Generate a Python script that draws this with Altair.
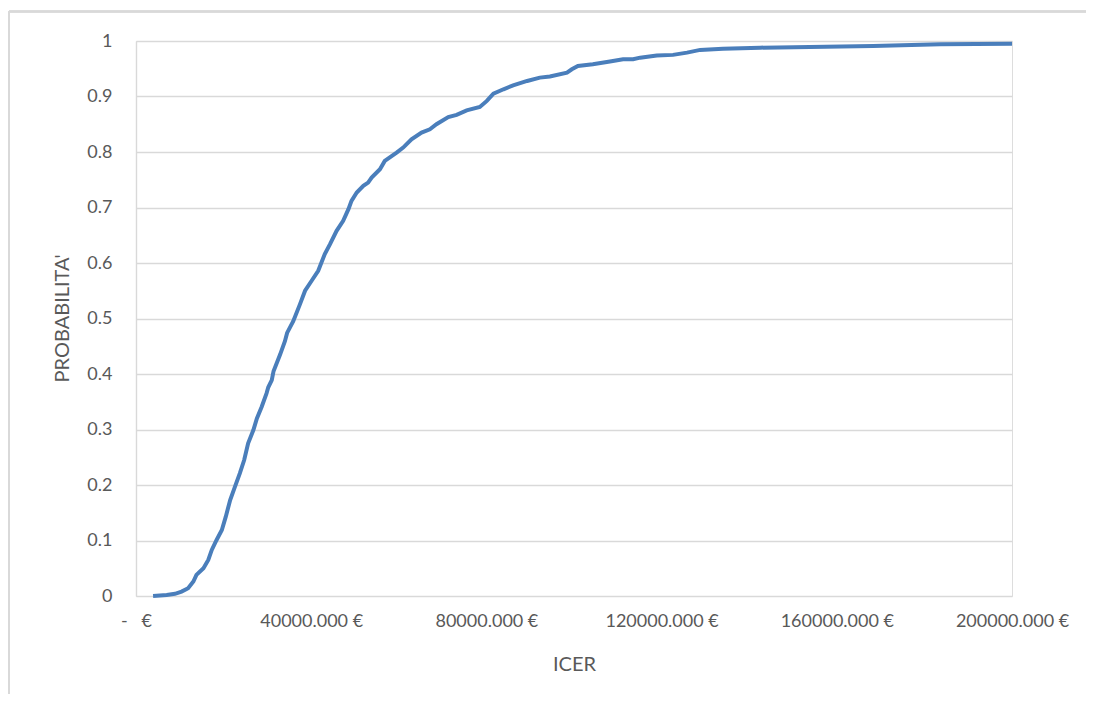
import altair as alt
import pandas as pd

# ICER values (EUR) and cumulative probability
icer = [3900, 7000, 8900, 10400, 11900, 13100, 13800, 15400, 16500, 17300,
        18400, 19600, 20500, 21500, 22600, 23700, 24700, 25600, 26800, 27600,
        28700, 29800, 30200, 31000, 31400, 32900, 34000, 34500, 35900, 37400,
        38600, 40100, 41600, 43100, 44300, 45800, 47300, 48500, 49200, 50400,
        51900, 53000, 53800, 55700, 56800, 59500, 61000, 62900, 65200, 67100,
        68600, 71300, 73200, 75500, 78500, 80100, 81600, 83900, 86100, 89300,
        92200, 94500, 98400, 99500, 100900, 104300, 108200, 111200, 113500,
        115100, 118900, 122600, 125800, 128800, 134000, 142500, 168300,
        183600, 200000]
prob = [0.000, 0.002, 0.004, 0.008, 0.014, 0.026, 0.038, 0.050, 0.065, 0.083,
        0.101, 0.119, 0.143, 0.173, 0.197, 0.221, 0.245, 0.275, 0.299, 0.320,
        0.341, 0.365, 0.376, 0.389, 0.405, 0.435, 0.459, 0.474, 0.495, 0.525,
        0.550, 0.568, 0.586, 0.616, 0.634, 0.658, 0.676, 0.697, 0.712, 0.727,
        0.739, 0.745, 0.754, 0.769, 0.784, 0.799, 0.808, 0.823, 0.835, 0.841,
        0.850, 0.863, 0.867, 0.875, 0.881, 0.892, 0.905, 0.913, 0.920, 0.928,
        0.934, 0.936, 0.943, 0.949, 0.955, 0.958, 0.963, 0.967, 0.967,
        0.970, 0.974, 0.975, 0.979, 0.984, 0.986, 0.988, 0.991,
        0.994, 0.995]

x_ticks = [0, 40000, 80000, 120000, 160000, 200000]
y_ticks = [0, 0.1, 0.2, 0.3, 0.4, 0.5, 0.6, 0.7, 0.8, 0.9, 1]

df = pd.DataFrame({"ICER": icer, "P": prob})

FONT = "Lato"
TXT = "#595959"
GRID = "#d9d9d9"

line = alt.Chart(df).mark_line(color="#4a7ebb", strokeWidth=4).encode(
    x=alt.X("ICER:Q",
            scale=alt.Scale(domain=[0, 200000], nice=False, zero=False),
            axis=alt.Axis(values=x_ticks, grid=False, domain=False, ticks=False,
                          labelExpr="datum.value == 0 ? '-\u00a0\u00a0\u00a0€' : datum.value + '.000 €'",
                          labelFont=FONT, labelFontSize=18, labelColor=TXT,
                          labelPadding=16, labelFlush=False, labelOverlap=False,
                          title="ICER", titleFont=FONT, titleFontSize=20,
                          titleFontWeight="normal", titleColor=TXT,
                          titleY=74, titleBaseline="alphabetic")),
    y=alt.Y("P:Q",
            scale=alt.Scale(domain=[0, 1], nice=False),
            axis=alt.Axis(values=y_ticks, format="~g", grid=True, gridColor=GRID,
                          gridWidth=1.4, domain=True, domainColor=GRID, domainWidth=1.4,
                          ticks=False, labelFont=FONT, labelFontSize=18,
                          labelColor=TXT, labelPadding=24,
                          title="PROBABILITA'", titleFont=FONT, titleFontSize=20,
                          titleFontWeight="normal", titleColor=TXT,
                          titleX=-68, titleY=277, titleAngle=270,
                          titleAlign="center", titleBaseline="alphabetic")),
)

frame_top = alt.Chart(df).mark_rule(color=GRID, strokeWidth=1.5).encode(
    x=alt.value(-127), x2=alt.value(960), y=alt.value(-29.5)
)
frame_left = alt.Chart(df).mark_rule(color=GRID, strokeWidth=1.5).encode(
    x=alt.value(-127), y=alt.value(-29.5), y2=alt.value(700)
)

chart = alt.layer(frame_top, frame_left, line).properties(
    width=876, height=555,
    autosize=alt.AutoSizeParams(type="none"),
    padding={"left": 128, "top": 33, "right": 74, "bottom": 98},
).configure_view(stroke=None).configure(background="white")

chart.save("out.html", embed_options={"renderer": "svg", "actions": False})
